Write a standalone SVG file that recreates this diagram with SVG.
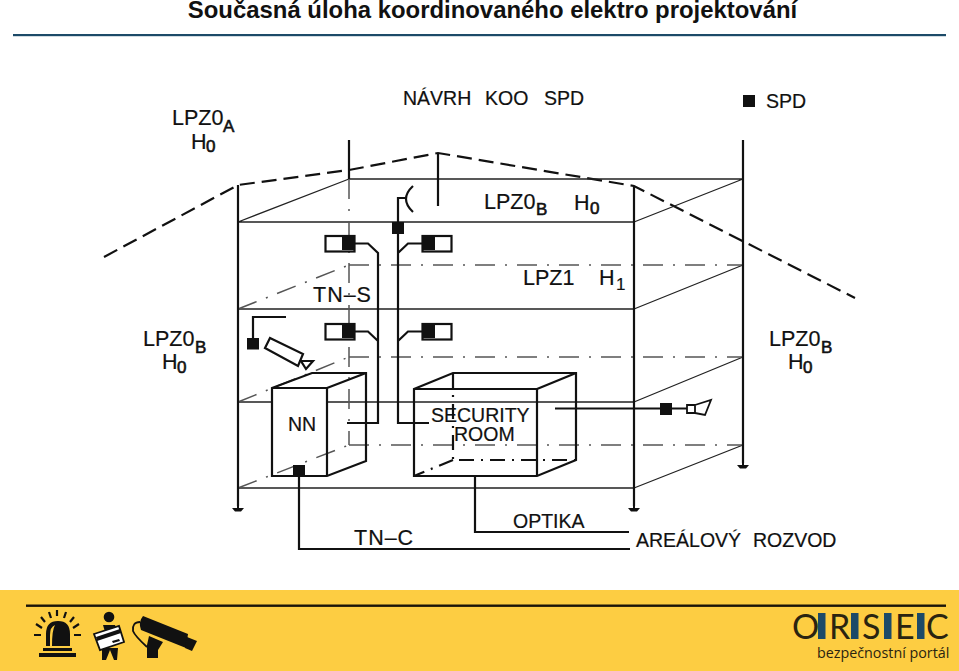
<svg xmlns="http://www.w3.org/2000/svg" width="959" height="671" viewBox="0 0 959 671">
<style>
.t{font-family:"Liberation Sans",Arial,sans-serif;font-size:19.5px;fill:#111;stroke:#111;stroke-width:.2}
.m{font-size:21.500px}
.s{font-size:17px;stroke-width:.6}
.n{font-size:19.500px}
.th{fill:none;stroke:#222;stroke-width:1.300}
.w{fill:none;stroke:#111;stroke-width:2.200;stroke-linejoin:miter}
.dd{fill:none;stroke:#555;stroke-width:1.500;stroke-dasharray:20 10 2 10}
.ddk{fill:none;stroke:#111;stroke-width:2.200;stroke-dasharray:15 7 2 7}
.r{fill:none;stroke:#111;stroke-width:2.200;stroke-dasharray:15 7}
.b{fill:#111}
.box{fill:#fff;stroke:#111;stroke-width:2.200}
.lg{font-family:"Lato","Open Sans",sans-serif;font-weight:400;font-size:34px;fill:#2a2410}
.bar{fill:#1c4a68}
</style>
<defs>
<g id="gnd"><path d="M0 0V6" stroke="#111" stroke-width="2"/><path d="M-6 6H6L3 9.500H-3Z" fill="#111"/></g>
</defs>
<rect width="959" height="671" fill="#fff"/>
<text x="492.500" y="18" text-anchor="middle" style="font-family:'Liberation Sans',Arial,sans-serif;font-weight:700;font-size:23.900px;fill:#111">Současná úloha koordinovaného elektro projektování</text>
<rect x="13" y="34" width="933" height="2.200" fill="#1c4a68"/>

<g id="connectors">
<path class="r" d="M104 257L238 185L349 170L438 153L634 186L855 298"/>
<path class="th" d="M349 179H743M238 222H634M238 309H634M238 402H272M327 402H634M238 488H634M238 222L349 179M634 222L743 179M634 309L743 265M634 402L743 357M634 488L743 445"/>
<path class="dd" d="M349 265H743M349 357H743M349 445H743M238 309L349 265M238 402L349 357M238 488L349 445M349 179V445"/>
<path class="w" d="M238 185V506M634 186V506M743 140V463M349 140V179M438 153V206"/>
<use href="#gnd" x="238" y="502"/><use href="#gnd" x="634" y="502"/><use href="#gnd" x="743" y="459"/>
<path class="w" d="M354 243.500H368L378 253V423H347M354 331.500H368L378 341M422 243.500H408L398 253M422 331.500H408L398 341M398 233V423H429M398 222V198H405"/>
<path class="w" d="M413 186Q399 199 413 212"/>
<path class="w" d="M299 476V549H630M475 476V532H629M555 408.500H688M253 338V317H286"/>
</g>

<g id="spd-top-left"><rect class="box" x="325.500" y="236" width="29" height="15.500"/><rect class="b" x="342" y="237" width="12" height="13"/></g>
<g id="spd-mid-left"><rect class="box" x="325.500" y="324" width="29" height="15.500"/><rect class="b" x="342" y="325" width="12" height="13"/></g>
<g id="spd-top-right"><rect class="box" x="422.500" y="236" width="29" height="15.500"/><rect class="b" x="423" y="237" width="12" height="13"/></g>
<g id="spd-mid-right"><rect class="box" x="422.500" y="324" width="29" height="15.500"/><rect class="b" x="423" y="325" width="12" height="13"/></g>
<g id="spd-main"><rect class="b" x="392" y="222" width="12" height="12"/></g>
<g id="spd-camera"><rect class="b" x="247" y="338" width="12" height="11.500"/></g>
<g id="spd-legend"><rect class="b" x="743" y="95" width="12" height="12"/></g>

<g id="camera">
<path d="M270 338L303 354L298 366L265 348Z" class="box"/>
<path d="M301 361H313L306 369Z" class="box"/>
</g>

<g id="nn">
<path d="M272 388L312 373H366V461L327 476H272Z" fill="none" stroke="#111" stroke-width="2.200"/>
<path d="M272 388H327V476M327 388L366 373" class="w"/>
<rect class="b" x="293" y="465" width="12" height="12"/>
</g>

<g id="security-room">
<path d="M414 389L453 373H576V460L537 476H414Z" fill="none" stroke="#111" stroke-width="2.200"/>
<path d="M414 389H537V476M537 389L576 373" class="w"/>
<path class="ddk" d="M453 373V460H576M453 460L414 476"/>
</g>

<g id="horn">
<rect class="b" x="660" y="403" width="12" height="12"/>
<path d="M687 405H695V413H687ZM695 405L711 400L705 415L695 413" fill="#fff" stroke="#111" stroke-width="1.800"/>
</g>

<g id="labels">
<text class="t m" x="172" y="125">LPZ0</text><text class="t s" x="223" y="132">A</text>
<text class="t m" x="191" y="149">H</text><text class="t s" x="206" y="152">0</text>
<text class="t n" x="403" y="105">NÁVRH</text><text class="t n" x="485" y="105">KOO</text><text class="t n" x="544" y="105">SPD</text>
<text class="t" x="766" y="108">SPD</text>
<text class="t m" x="484" y="209">LPZ0</text><text class="t s" x="536" y="215">B</text>
<text class="t m" x="574" y="210">H</text><text class="t s" x="590" y="214">0</text>
<text class="t m" x="523" y="285">LPZ1</text><text class="t m" x="599" y="285">H</text><text class="t s" x="616" y="290" style="stroke-width:.2">1</text>
<text class="t m" x="313" y="302" style="letter-spacing:1px">TN–S</text>
<text class="t m" x="143" y="346">LPZ0</text><text class="t s" x="195" y="353">B</text>
<text class="t m" x="162" y="369">H</text><text class="t s" x="177" y="373">0</text>
<text class="t m" x="769" y="346">LPZ0</text><text class="t s" x="821" y="353">B</text>
<text class="t m" x="788" y="369">H</text><text class="t s" x="803" y="373">0</text>
<text class="t" x="288" y="431">NN</text>
<text class="t" x="431" y="422">SECURITY</text><text class="t" x="454" y="441">ROOM</text>
<text class="t m" x="354" y="545" style="letter-spacing:1px">TN–C</text>
<text class="t" x="513" y="528">OPTIKA</text>
<text class="t" x="636" y="547">AREÁLOVÝ</text><text class="t" x="753" y="547">ROZVOD</text>
</g>

<g id="footer">
<rect y="590" width="959" height="81" fill="#fdcd42"/>
<rect x="26" y="604.500" width="920" height="2.400" fill="#1a1408"/>
<g id="icon-beacon" fill="#111">
<path d="M39 653H76V657H39ZM43 648H72V651H43ZM46 646V634Q46 621 58 621Q70 621 70 634V646Z"/>
<path d="M50 646V635Q50 627 55 625Q52 630 52 646Z" fill="#fdcd42"/>
<path d="M34 635H41M74 635H81M36 624L42 628M79 624L73 628M41 617L45 622M74 617L70 622M49 612L51 618M66 612L64 618M57 610V616" stroke="#111" stroke-width="2.200"/>
</g>
<g id="icon-person" fill="#111">
<circle cx="109" cy="617" r="5.300"/>
<path d="M103 625H115L119 636L108 642Z"/>
<path d="M102 648H118L117 660H114L110 650L106 660H102Z"/>
<path d="M94 634L119 626L124 642L100 650Z" fill="#fff" stroke="#111" stroke-width="1.800"/>
<path d="M96 637L120 629L121 633L97 641Z"/>
<path d="M112 641L119 639L120 641L113 643Z"/>
</g>
<g id="icon-cam" fill="#111">
<path d="M143 616L188 634L186 648L141 630Q138 622 143 616Z"/>
<path d="M187 637L197 641L192 651L185 648Z"/>
<path d="M149 636L163 642L158 650V658H147V645Z"/>
<path d="M140 622Q132 622 133 631Q135 636 147 647" fill="none" stroke="#111" stroke-width="1.800"/>
</g>
<g id="logo">
<text class="lg" x="792" y="639">O</text>
<rect class="bar" x="818" y="613" width="7.500" height="26"/>
<text class="lg" x="829" y="639">R</text>
<rect class="bar" x="851" y="613" width="7.500" height="26"/>
<text class="lg" x="862" y="639">S</text>
<rect class="bar" x="884" y="613" width="7.500" height="26"/>
<text class="lg" x="895" y="639">E</text>
<rect class="bar" x="917" y="613" width="7.500" height="26"/>
<text class="lg" x="926" y="639">C</text>
<text x="817" y="658" style="font-family:'Open Sans',sans-serif;font-size:14.300px;fill:#2a2410">bezpečnostní portál</text>
</g>
</g>
</svg>
